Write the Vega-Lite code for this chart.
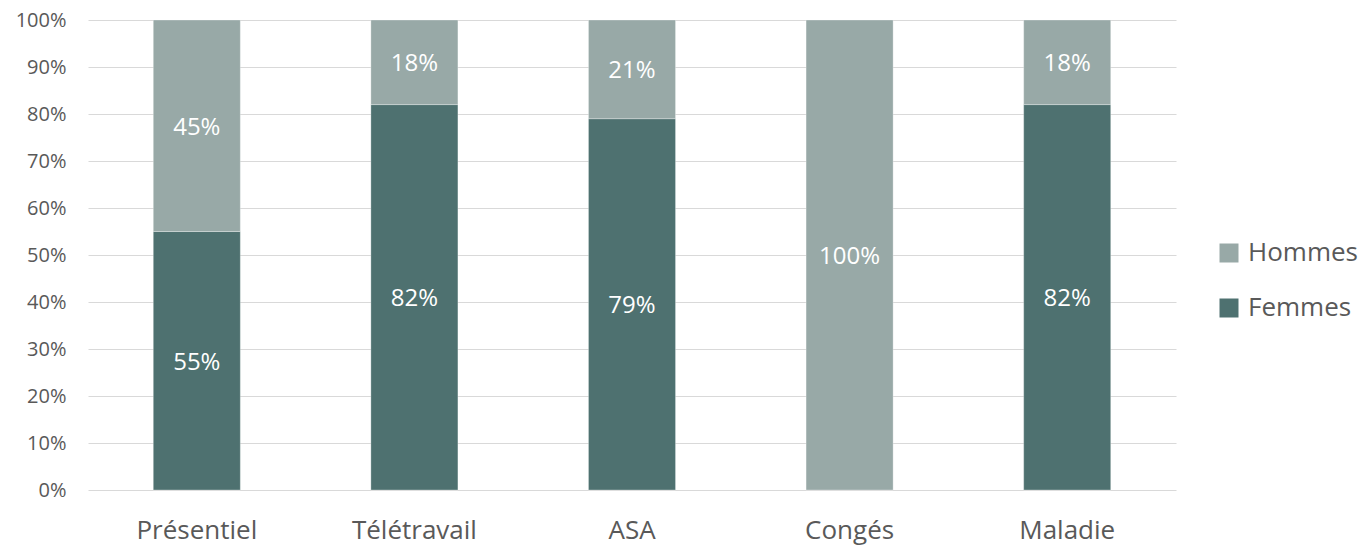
{
  "$schema": "https://vega.github.io/schema/vega-lite/v6.json",
  "width": 1088,
  "height": 470,
  "autosize": {"type": "none"},
  "padding": {"left": 88, "top": 20, "right": 192, "bottom": 58},
  "background": "white",
  "config": {
    "font": "Open Sans",
    "view": {"stroke": null}
  },
  "data": {
    "values": [
      {"statut": "Présentiel", "genre": "Femmes", "part": 0.55},
      {"statut": "Présentiel", "genre": "Hommes", "part": 0.45},
      {"statut": "Télétravail", "genre": "Femmes", "part": 0.82},
      {"statut": "Télétravail", "genre": "Hommes", "part": 0.18},
      {"statut": "ASA", "genre": "Femmes", "part": 0.79},
      {"statut": "ASA", "genre": "Hommes", "part": 0.21},
      {"statut": "Congés", "genre": "Hommes", "part": 1.0},
      {"statut": "Maladie", "genre": "Femmes", "part": 0.82},
      {"statut": "Maladie", "genre": "Hommes", "part": 0.18}
    ]
  },
  "encoding": {
    "x": {
      "field": "statut",
      "type": "nominal",
      "sort": ["Présentiel", "Télétravail", "ASA", "Congés", "Maladie"],
      "scale": {"paddingInner": 0.6, "paddingOuter": 0.3},
      "axis": {
        "title": null,
        "labelAngle": 0,
        "labelFontSize": 26,
        "labelColor": "#595959",
        "labelPadding": 27,
        "ticks": false,
        "domain": false,
        "grid": false
      }
    }
  },
  "layer": [
    {
      "mark": {"type": "bar", "stroke": "#ffffff", "strokeWidth": 0.5, "strokeOpacity": 0.6},
      "encoding": {
        "y": {
          "field": "part",
          "type": "quantitative",
          "stack": true,
          "scale": {"domain": [0, 1]},
          "axis": {
            "title": null,
            "format": ".0%",
            "values": [0, 0.1, 0.2, 0.3, 0.4, 0.5, 0.6, 0.7, 0.8, 0.9, 1],
            "labelFontSize": 20,
            "labelColor": "#595959",
            "labelPadding": 22,
            "ticks": false,
            "domain": false,
            "grid": true,
            "gridColor": "#d9d9d9",
            "gridWidth": 1.2
          }
        },
        "color": {
          "field": "genre",
          "type": "nominal",
          "scale": {"domain": ["Hommes", "Femmes"], "range": ["#98a9a7", "#4e7170"]},
          "legend": {
            "title": null,
            "orient": "none",
            "legendX": 1128,
            "legendY": 220,
            "padding": 0,
            "symbolType": "square",
            "symbolSize": 361,
            "symbolStrokeWidth": 0,
            "labelFontSize": 26,
            "labelColor": "#595959",
            "labelOffset": 6,
            "rowPadding": 29
          }
        },
        "order": {"field": "genre", "sort": "ascending"}
      }
    },
    {
      "transform": [
        {
          "stack": "part",
          "groupby": ["statut"],
          "sort": [{"field": "genre", "order": "ascending"}],
          "as": ["p0", "p1"]
        },
        {"calculate": "(datum.p0 + datum.p1) / 2", "as": "milieu"}
      ],
      "mark": {"type": "text", "color": "#ffffff", "fontSize": 24, "baseline": "middle", "dy": 2},
      "encoding": {
        "y": {"field": "milieu", "type": "quantitative"},
        "text": {"field": "part", "type": "quantitative", "format": ".0%"}
      }
    }
  ]
}
